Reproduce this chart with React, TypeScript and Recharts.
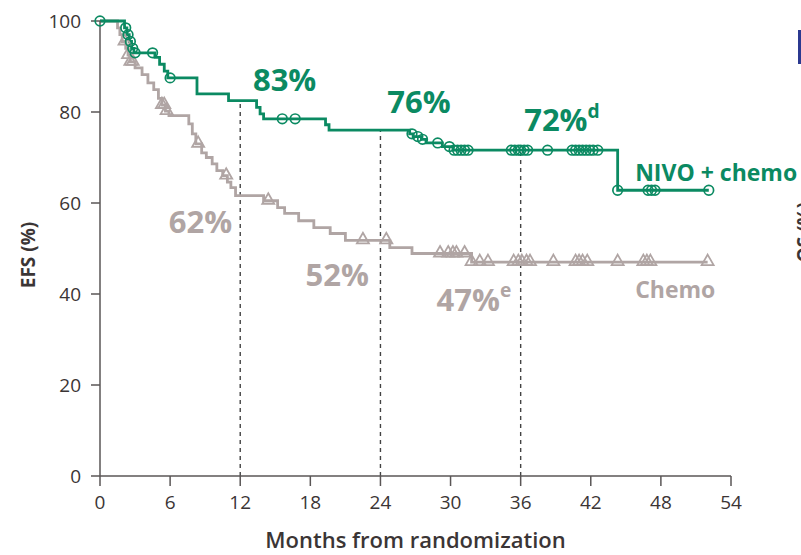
import React from 'react';
import {
  ComposedChart,
  Line,
  Scatter,
  XAxis,
  YAxis,
  ReferenceLine,
  ReferenceDot,
  Label,
} from 'recharts';

const GREEN = '#0b8a62';
const GREY = '#b0a5a4';
const AXIS = '#5a5656';
const TEXT = '#3b3535';
const FONT = '"Open Sans", "Noto Sans", sans-serif';

const X_TICKS = [0, 6, 12, 18, 24, 30, 36, 42, 48, 54];
const Y_TICKS = [0, 20, 40, 60, 80, 100];

// NIVO + chemo: Kaplan-Meier steps (months, EFS %)
const nivoTimes = [0, 2.1, 2.3, 2.5, 2.7, 2.9, 4.7, 5.1, 5.5, 5.8, 8.3, 11.0, 13.4, 13.7, 14.0, 19.3, 19.6, 26.5, 26.8, 27.5, 27.9, 29.3, 30.2, 44.3, 52.1];
const nivoSurv = [100, 98.5, 97, 95.5, 94, 93, 92, 90.5, 89, 87.5, 84, 82.5, 81, 79.6, 78.5, 77.2, 76, 75.2, 74.6, 74, 73.2, 72.4, 71.6, 62.8, 62.8];
const nivoCensored = [0, 2.2, 2.4, 2.6, 2.8, 3.0, 4.5, 6.0, 15.6, 16.7, 26.7, 27.2, 27.6, 28.9, 29.9, 30.3, 30.6, 30.9, 31.2, 31.5, 35.2, 35.5, 35.8, 36.0, 36.3, 36.6, 38.3, 40.4, 40.7, 41.0, 41.3, 41.6, 41.9, 42.2, 42.6, 44.3, 46.9, 47.2, 47.5, 52.1];

// Chemo: Kaplan-Meier steps (months, EFS %)
const chemoTimes = [0, 1.5, 1.7, 1.9, 2.2, 2.4, 2.6, 3.0, 3.6, 4.1, 4.6, 5.0, 5.3, 5.6, 5.9, 7.6, 7.9, 8.2, 8.7, 9.1, 9.6, 10.0, 10.5, 10.9, 11.2, 11.6, 14.0, 15.2, 15.8, 17.0, 18.3, 19.7, 21.0, 24.8, 26.7, 31.8, 52.0];
const chemoSurv = [100, 98.5, 97, 95.5, 94, 92.5, 91, 89.7, 88.2, 86.4, 84.9, 83, 81.5, 80.2, 79.2, 77.4, 75.2, 73, 71, 70, 68.6, 67.1, 66, 64.6, 63.4, 61.6, 60.5, 59, 57.7, 56.1, 54.6, 53.3, 51.8, 50.2, 48.9, 47, 47];
const chemoCensored = [2.1, 2.4, 2.6, 2.8, 5.3, 5.5, 5.7, 8.4, 10.8, 14.4, 22.5, 24.5, 29.1, 29.8, 30.2, 30.5, 31.2, 31.8, 32.5, 33.2, 35.4, 35.8, 36.1, 36.5, 36.8, 38.8, 40.7, 41.0, 41.3, 41.7, 44.3, 46.5, 46.8, 47.1, 52.0];

// landmark estimates at 12 / 24 / 36 months
const landmarks = [12, 24, 36];

const toRows = (times: number[], surv: number[]) => times.map((t, i) => ({ t, s: surv[i] }));

// value of a step curve at time t (right-continuous)
function stepAt(times: number[], surv: number[], t: number) {
  let v = surv[0];
  for (let i = 0; i < times.length; i++) {
    if (times[i] <= t) v = surv[i];
  }
  return v;
}

const nivoData = toRows(nivoTimes, nivoSurv);
const chemoData = toRows(chemoTimes, chemoSurv);
const nivoMarks = nivoCensored.map((t) => ({ t, s: stepAt(nivoTimes, nivoSurv, t) }));
const chemoMarks = chemoCensored.map((t) => ({ t, s: stepAt(chemoTimes, chemoSurv, t) }));

const OpenCircle = (props: any) => (
  <circle cx={props.cx} cy={props.cy} r={4.8} fill="none" stroke={GREEN} strokeWidth={1.7} />
);

const OpenTriangle = (props: any) => {
  const { cx, cy } = props;
  return (
    <path
      d={`M${cx},${cy - 7.5} L${cx + 6},${cy + 3} L${cx - 6},${cy + 3} Z`}
      fill="none"
      stroke={GREY}
      strokeWidth={1.8}
    />
  );
};

interface AnnotationProps {
  x: number;
  y: number;
  text: string;
  sup?: string;
  color: string;
  size: number;
  anchor?: 'start' | 'middle';
}

function annotation({ x, y, text, sup, color, size, anchor = 'middle' }: AnnotationProps) {
  return (
    <ReferenceDot
      key={text}
      x={x}
      y={y}
      ifOverflow="visible"
      shape={(p: any) => (
        <text
          x={p.cx}
          y={p.cy}
          textAnchor={anchor}
          dominantBaseline="central"
          fill={color}
          fontFamily={FONT}
          fontWeight={700}
          fontSize={size}
        >
          {text}
          {sup && (
            <tspan fontSize={size * 0.62} dy={-size * 0.3}>
              {sup}
            </tspan>
          )}
        </text>
      )}
    />
  );
}

export default function App() {
  return (
    <div style={{ position: 'absolute', left: 0, top: 0, width: 801, height: 555, overflow: 'hidden', background: '#fff' }}>
      <ComposedChart
        width={801}
        height={555}
        margin={{ top: 21, right: 70, bottom: 0, left: 0 }}
      >
        <XAxis
          type="number"
          dataKey="t"
          domain={[0, 54]}
          ticks={X_TICKS}
          interval={0}
          stroke={AXIS}
          strokeWidth={1.5}
          tickSize={10}
          tickMargin={10}
          tick={{ fill: TEXT, fontSize: 19, fontFamily: FONT }}
          height={79}
        >
          <Label
            value="Months from randomization"
            position="insideBottom"
            offset={7}
            fill={TEXT}
            fontSize={22}
            fontWeight={600}
            fontFamily={FONT}
          />
        </XAxis>
        <YAxis
          type="number"
          domain={[0, 100]}
          ticks={Y_TICKS}
          interval={0}
          stroke={AXIS}
          strokeWidth={1.5}
          tickSize={9}
          tickMargin={10}
          tick={{ fill: TEXT, fontSize: 19, fontFamily: FONT }}
          width={100}
        >
          <Label
            content={() => (
              <text
                x={28}
                y={255}
                transform="rotate(-90 28 255)"
                textAnchor="middle"
                dominantBaseline="central"
                fill={TEXT}
                fontSize={19}
                fontWeight={700}
                fontFamily={FONT}
              >
                EFS (%)
              </text>
            )}
          />
        </YAxis>

        {landmarks.map((m) => (
          <ReferenceLine
            key={m}
            segment={[{ x: m, y: 0 }, { x: m, y: stepAt(nivoTimes, nivoSurv, m) }]}
            stroke="#444"
            strokeWidth={1.4}
            strokeDasharray="4 4"
          />
        ))}

        <Line
          data={chemoData}
          dataKey="s"
          type="stepAfter"
          stroke={GREY}
          strokeWidth={2.8}
          dot={false}
          isAnimationActive={false}
        />
        <Scatter data={chemoMarks} dataKey="s" shape={OpenTriangle} isAnimationActive={false} />
        <Line
          data={nivoData}
          dataKey="s"
          type="stepAfter"
          stroke={GREEN}
          strokeWidth={2.8}
          dot={false}
          isAnimationActive={false}
        />
        <Scatter data={nivoMarks} dataKey="s" shape={OpenCircle} isAnimationActive={false} />

        {annotation({ x: 15.8, y: 87.3, text: '83%', color: GREEN, size: 31 })}
        {annotation({ x: 27.3, y: 82.5, text: '76%', color: GREEN, size: 31 })}
        {annotation({ x: 36.3, y: 78.5, text: '72%', sup: 'd', color: GREEN, size: 31, anchor: 'start' })}
        {annotation({ x: 8.6, y: 56.1, text: '62%', color: GREY, size: 31 })}
        {annotation({ x: 20.3, y: 44.5, text: '52%', color: GREY, size: 31 })}
        {annotation({ x: 28.8, y: 39.0, text: '47%', sup: 'e', color: GREY, size: 31, anchor: 'start' })}
        {annotation({ x: 45.8, y: 66.9, text: 'NIVO + chemo', color: GREEN, size: 23, anchor: 'start' })}
        {annotation({ x: 45.8, y: 41.0, text: 'Chemo', color: GREY, size: 23, anchor: 'start' })}
      </ComposedChart>

      {/* edge of the neighbouring panel */}
      <svg width={801} height={555} style={{ position: 'absolute', left: 0, top: 0, pointerEvents: 'none' }}>
        <rect x={798} y={30} width={3} height={34} fill="#2b3990" />
        <text
          x={811}
          y={232}
          transform="rotate(-90 811 232)"
          textAnchor="middle"
          fill={TEXT}
          fontSize={19}
          fontWeight={700}
          fontFamily={FONT}
        >
          OS (%)
        </text>
      </svg>
    </div>
  );
}
